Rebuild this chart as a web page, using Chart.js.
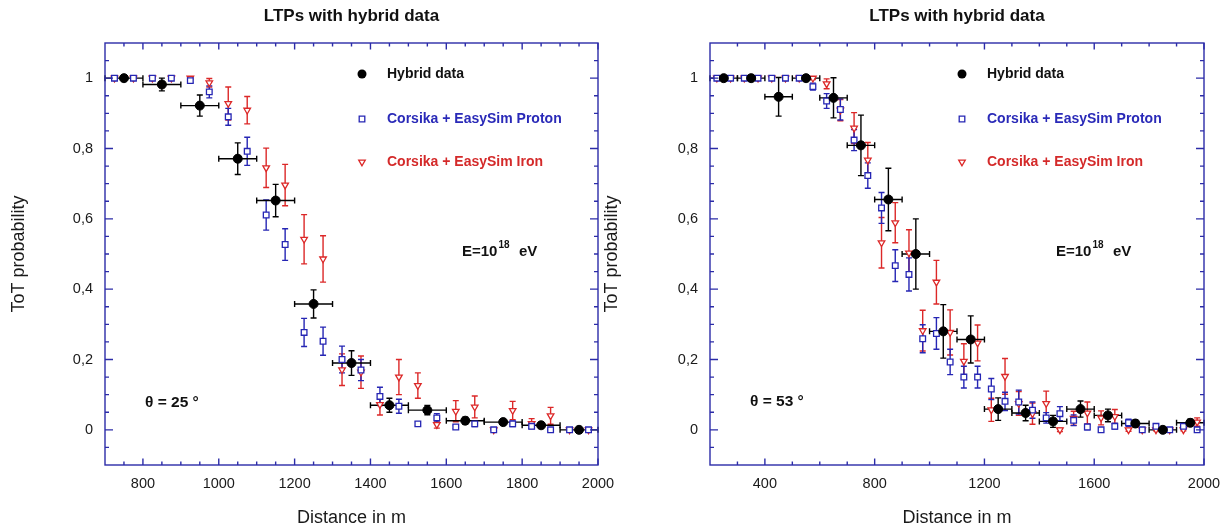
<!DOCTYPE html>
<html><head><meta charset="utf-8">
<script src="https://cdn.jsdelivr.net/npm/chart.js@4.4.1/dist/chart.umd.min.js"></script>
<style>
html,body{margin:0;padding:0;background:#fff;width:1230px;height:529px;overflow:hidden;}
canvas{position:absolute;top:0;}
#c1{left:0;} #c2{left:590px;}
</style></head><body>
<canvas id="c1" width="620" height="529"></canvas>
<canvas id="c2" width="640" height="529"></canvas>
<script>
// ---------------- DATA ----------------
const chartTitle = 'LTPs with hybrid data';
const xAxisTitle = 'Distance in m';
const yAxisTitle = 'ToT probability';
const legendLabels = ['Hybrid data', 'Corsika + EasySim Proton', 'Corsika + EasySim Iron'];

const yTickValues = [0, 0.2, 0.4, 0.6, 0.8, 1];
const yTickLabels = ['0', '0,2', '0,4', '0,6', '0,8', '1'];
const leftXTicks = [800, 1000, 1200, 1400, 1600, 1800, 2000];
const rightXTicks = [400, 800, 1200, 1600, 2000];

// Left panel (theta = 25 deg)
const leftHybX = [750, 850, 950, 1050, 1150, 1250, 1350, 1450, 1550, 1650, 1750, 1850, 1950];
const leftHybY = [1.0, 0.982, 0.922, 0.771, 0.652, 0.358, 0.190, 0.070, 0.056, 0.026, 0.022, 0.013, 0.0];
const leftHybYErr = [0.0, 0.018, 0.03, 0.045, 0.046, 0.04, 0.035, 0.02, 0.013, 0.01, 0.008, 0.006, 0.004];
const leftHybXErr = [50, 50, 50, 50, 50, 50, 50, 50, 50, 50, 50, 50, 50];

const leftSimX = [725, 775, 825, 875, 925, 975, 1025, 1075, 1125, 1175, 1225, 1275, 1325, 1375, 1425, 1475, 1525, 1575, 1625, 1675, 1725, 1775, 1825, 1875, 1925, 1975];
const leftProtonY = [1.0, 1.0, 1.0, 1.0, 0.993, 0.961, 0.890, 0.792, 0.611, 0.527, 0.277, 0.252, 0.200, 0.170, 0.095, 0.067, 0.017, 0.034, 0.008, 0.017, 0.0, 0.017, 0.010, 0.0, 0.0, 0.0];
const leftProtonErr = [0, 0, 0, 0, 0.005, 0.017, 0.024, 0.04, 0.043, 0.045, 0.04, 0.04, 0.038, 0.03, 0.026, 0.02, 0.006, 0.012, 0.005, 0.008, 0.002, 0.008, 0.006, 0.002, 0.002, 0.002];
const leftIronY = [1.0, 1.0, 1.0, 1.0, 1.0, 0.987, 0.928, 0.909, 0.745, 0.696, 0.542, 0.486, 0.171, 0.164, 0.072, 0.150, 0.126, 0.015, 0.053, 0.065, 0.0, 0.055, 0.018, 0.040, 0.0, 0.0];
const leftIronErr = [0, 0, 0, 0, 0.004, 0.012, 0.047, 0.039, 0.056, 0.059, 0.07, 0.066, 0.045, 0.046, 0.03, 0.05, 0.036, 0.01, 0.03, 0.031, 0.002, 0.026, 0.014, 0.024, 0.002, 0.002];

// Right panel (theta = 53 deg)
const rightHybX = [250, 350, 450, 550, 650, 750, 850, 950, 1050, 1150, 1250, 1350, 1450, 1550, 1650, 1750, 1850, 1950];
const rightHybY = [1.0, 1.0, 0.947, 1.0, 0.944, 0.809, 0.655, 0.500, 0.280, 0.257, 0.059, 0.048, 0.024, 0.059, 0.041, 0.018, 0.0, 0.02];
const rightHybYErr = [0.003, 0.003, 0.055, 0.003, 0.057, 0.086, 0.089, 0.10, 0.076, 0.067, 0.032, 0.022, 0.017, 0.023, 0.018, 0.01, 0.005, 0.01];
const rightHybXErr = [50, 50, 50, 50, 50, 50, 50, 50, 50, 50, 50, 50, 50, 50, 50, 50, 50, 50];

const rightSimX = [225, 275, 325, 375, 425, 475, 525, 575, 625, 675, 725, 775, 825, 875, 925, 975, 1025, 1075, 1125, 1175, 1225, 1275, 1325, 1375, 1425, 1475, 1525, 1575, 1625, 1675, 1725, 1775, 1825, 1875, 1925, 1975];
const rightProtonY = [1, 1, 1, 1, 1, 1, 1, 0.976, 0.935, 0.911, 0.824, 0.723, 0.631, 0.467, 0.442, 0.259, 0.274, 0.193, 0.150, 0.150, 0.116, 0.081, 0.079, 0.056, 0.034, 0.046, 0.027, 0.008, 0.0, 0.01, 0.02, 0.0, 0.01, 0.0, 0.01, 0.0];
const rightProtonErr = [0, 0, 0, 0, 0, 0, 0.003, 0.01, 0.021, 0.03, 0.03, 0.036, 0.044, 0.045, 0.047, 0.04, 0.045, 0.036, 0.031, 0.031, 0.03, 0.026, 0.034, 0.023, 0.015, 0.02, 0.015, 0.008, 0.004, 0.008, 0.01, 0.003, 0.006, 0.003, 0.006, 0.003];
const rightIronY = [1, 1, 1, 1, 1, 1, 1, 1.0, 0.984, 0.909, 0.858, 0.767, 0.532, 0.589, 0.503, 0.282, 0.420, 0.277, 0.195, 0.247, 0.057, 0.152, 0.075, 0.046, 0.075, 0.0, 0.033, 0.048, 0.034, 0.038, 0.0, 0.0, 0.0, 0.0, 0.0, 0.022];
const rightIronErr = [0, 0, 0, 0, 0, 0, 0, 0.004, 0.014, 0.03, 0.044, 0.05, 0.072, 0.057, 0.066, 0.058, 0.062, 0.064, 0.05, 0.051, 0.033, 0.051, 0.034, 0.03, 0.035, 0.005, 0.02, 0.031, 0.02, 0.02, 0.004, 0.003, 0.003, 0.003, 0.003, 0.012];

// ---------------- STYLE ----------------
const FONT = '"Liberation Sans", Arial, Helvetica, sans-serif';
const AXIS = '#2c2ca8';
const BLACK = '#000000';
const BLUE = '#2626b4';
const RED = '#dc2828';
const TEXT = '#1a1a1a';
const legendTextColors = ['#111111', '#2a2ab8', '#d42a2a'];

Chart.defaults.font.family = FONT;
Chart.defaults.color = TEXT;

function pts(xs, ys) { return xs.map((x, i) => ({ x: x, y: ys[i] })); }
function steps(a, b, s) { const r = []; for (let v = a; v <= b + 1e-9; v += s) r.push(+v.toFixed(4)); return r; }

function drawMarker(ctx, kind, x, y) {
  ctx.save();
  if (kind === 0) {
    ctx.fillStyle = BLACK; ctx.beginPath(); ctx.arc(x, y, 4.5, 0, Math.PI * 2); ctx.fill();
  } else if (kind === 1) {
    ctx.strokeStyle = BLUE; ctx.fillStyle = '#fff'; ctx.lineWidth = 1.3;
    ctx.beginPath(); ctx.rect(x - 2.8, y - 2.8, 5.6, 5.6); ctx.fill(); ctx.stroke();
  } else {
    ctx.strokeStyle = RED; ctx.fillStyle = '#fff'; ctx.lineWidth = 1.3;
    const r = 3.8;
    ctx.beginPath();
    ctx.moveTo(x, y + r);
    ctx.lineTo(x - r * 0.866, y - r * 0.5);
    ctx.lineTo(x + r * 0.866, y - r * 0.5);
    ctx.closePath(); ctx.fill(); ctx.stroke();
  }
  ctx.restore();
}

const errorBars = {
  id: 'errorBars',
  beforeDatasetsDraw(chart) {
    const { ctx, scales: { x, y } } = chart;
    for (let di = chart.data.datasets.length - 1; di >= 0; di--) {
      const ds = chart.data.datasets[di];
      ctx.save();
      ctx.strokeStyle = ds.borderColor;
      ctx.lineWidth = ds.errWidth || 1.4;
      const cap = ds.capSize || 3;
      ds.data.forEach((p, i) => {
        const px = x.getPixelForValue(p.x), py = y.getPixelForValue(p.y);
        ctx.beginPath();
        const ey = ds.errY ? ds.errY[i] : 0;
        if (ey > 0) {
          const y1 = y.getPixelForValue(p.y + ey), y2 = y.getPixelForValue(p.y - ey);
          ctx.moveTo(px, y1); ctx.lineTo(px, y2);
          ctx.moveTo(px - cap, y1); ctx.lineTo(px + cap, y1);
          ctx.moveTo(px - cap, y2); ctx.lineTo(px + cap, y2);
        }
        const ex = ds.errX ? ds.errX[i] : 0;
        if (ex > 0) {
          const x1 = x.getPixelForValue(p.x - ex), x2 = x.getPixelForValue(p.x + ex);
          ctx.moveTo(x1, py); ctx.lineTo(x2, py);
          ctx.moveTo(x1, py - cap); ctx.lineTo(x1, py + cap);
          ctx.moveTo(x2, py - cap); ctx.lineTo(x2, py + cap);
        }
        ctx.stroke();
      });
      ctx.restore();
    }
  }
};

const frameTicks = {
  id: 'frameTicks',
  afterDraw(chart, args, o) {
    const { ctx, chartArea: a, scales: { x, y } } = chart;
    ctx.save();
    ctx.strokeStyle = AXIS; ctx.lineWidth = 1.4;
    ctx.beginPath();
    const tx = (v, len) => { const p = x.getPixelForValue(v); ctx.moveTo(p, a.bottom); ctx.lineTo(p, a.bottom - len); ctx.moveTo(p, a.top); ctx.lineTo(p, a.top + len); };
    const ty = (v, len) => { const p = y.getPixelForValue(v); ctx.moveTo(a.left, p); ctx.lineTo(a.left + len, p); ctx.moveTo(a.right, p); ctx.lineTo(a.right - len, p); };
    o.xMinor.forEach(v => tx(v, 3.5));
    o.xMajor.forEach(v => tx(v, 6.5));
    o.yMinor.forEach(v => ty(v, 4));
    o.yMajor.forEach(v => ty(v, 8));
    ctx.stroke();
    ctx.strokeRect(a.left, a.top, a.right - a.left, a.bottom - a.top);
    ctx.restore();
  }
};

const textLayer = {
  id: 'textLayer',
  afterDraw(chart, args, o) {
    const { ctx, chartArea: a } = chart;
    ctx.save();
    ctx.fillStyle = '#111'; ctx.textAlign = 'center'; ctx.textBaseline = 'middle';
    ctx.font = 'bold 17px ' + FONT;
    ctx.fillText(chartTitle, (a.left + a.right) / 2, 16);
    ctx.textAlign = 'left';
    legendLabels.forEach((lab, i) => {
      const yy = o.legendRows[i];
      drawMarker(ctx, i, a.left + o.legendMarkerDx, yy);
      ctx.font = 'bold 14px ' + FONT;
      ctx.fillStyle = legendTextColors[i];
      ctx.fillText(lab, a.left + o.legendTextDx, yy);
    });
    ctx.fillStyle = '#111';
    const ex = a.left + o.energyDx;
    const ey = o.energyY;
    ctx.font = 'bold 15px ' + FONT;
    ctx.fillText('E=10', ex, ey);
    const w1 = ctx.measureText('E=10').width;
    ctx.font = 'bold 10px ' + FONT;
    ctx.fillText('18', ex + w1 + 1, ey - 7);
    ctx.font = 'bold 15px ' + FONT;
    ctx.fillText('eV', ex + 57, ey);
    ctx.font = 'bold 15.5px ' + FONT;
    ctx.fillText(o.thetaText, a.left + o.thetaDx, o.thetaY);
    ctx.restore();
  }
};

function makeChart(id, cfg) {
  const tickFont = { family: FONT, size: 14.5 };
  return new Chart(document.getElementById(id), {
    type: 'scatter',
    data: {
      datasets: [
        { label: legendLabels[0], data: pts(cfg.hx, cfg.hy), errY: cfg.hye, errX: cfg.hxe,
          borderColor: BLACK, backgroundColor: BLACK, pointStyle: 'circle', pointRadius: 4.5, borderWidth: 1, errWidth: 1.4 },
        { label: legendLabels[1], data: pts(cfg.sx, cfg.py), errY: cfg.pye,
          borderColor: BLUE, backgroundColor: '#ffffff', pointStyle: 'rect', pointRadius: 4, borderWidth: 1.3 },
        { label: legendLabels[2], data: pts(cfg.sx, cfg.iy), errY: cfg.iye,
          borderColor: RED, backgroundColor: '#ffffff', pointStyle: 'triangle', pointRotation: 180, pointRadius: 3.8, borderWidth: 1.3 }
      ]
    },
    options: {
      responsive: false, animation: false, devicePixelRatio: 1, events: [],
      layout: { padding: { top: 43, right: cfg.padRight, left: 0, bottom: 0 } },
      scales: {
        x: {
          type: 'linear', min: cfg.xmin, max: 2000,
          afterBuildTicks: s => { s.ticks = cfg.xticks.map(v => ({ value: v })); },
          afterFit: s => { s.height = 64; s.paddingLeft = 0; s.paddingRight = 0; },
          grid: { display: false, drawTicks: false }, border: { display: false },
          ticks: { padding: 10, font: tickFont, color: TEXT, autoSkip: false, maxRotation: 0, callback: v => String(v) },
          title: { display: true, text: xAxisTitle, color: TEXT, font: { family: FONT, size: 18 }, padding: { top: 0, bottom: 0 } }
        },
        y: {
          type: 'linear', min: -0.1, max: 1.1,
          afterBuildTicks: s => { s.ticks = yTickValues.map(v => ({ value: v })); },
          afterFit: s => { s.width = cfg.yWidth; s.paddingTop = 0; s.paddingBottom = 0; },
          grid: { display: false, drawTicks: false }, border: { display: false },
          ticks: { padding: 12, font: tickFont, color: TEXT, autoSkip: false, callback: (v, i) => yTickLabels[i] },
          title: { display: true, text: yAxisTitle, color: TEXT, font: { family: FONT, size: 18 }, padding: { top: cfg.yTitlePad, bottom: 0 } }
        }
      },
      plugins: {
        legend: { display: false }, tooltip: { enabled: false },
        frameTicks: { xMajor: cfg.xticks, xMinor: cfg.xminor, yMajor: yTickValues, yMinor: steps(-0.05, 1.05, 0.05) },
        textLayer: cfg.text
      }
    },
    plugins: [errorBars, frameTicks, textLayer]
  });
}

makeChart('c1', {
  hx: leftHybX, hy: leftHybY, hye: leftHybYErr, hxe: leftHybXErr,
  sx: leftSimX, py: leftProtonY, pye: leftProtonErr, iy: leftIronY, iye: leftIronErr,
  xmin: 700, xticks: leftXTicks, xminor: steps(750, 1950, 50),
  padRight: 22, yWidth: 105, yTitlePad: 8,
  text: { legendRows: [74, 119, 162], legendMarkerDx: 257, legendTextDx: 282,
          energyDx: 357, energyY: 252, thetaText: '\u03b8 = 25 \u00b0', thetaDx: 40, thetaY: 403 }
});

makeChart('c2', {
  hx: rightHybX, hy: rightHybY, hye: rightHybYErr, hxe: rightHybXErr,
  sx: rightSimX, py: rightProtonY, pye: rightProtonErr, iy: rightIronY, iye: rightIronErr,
  xmin: 200, xticks: rightXTicks, xminor: steps(300, 1900, 100),
  padRight: 26, yWidth: 120, yTitlePad: 11.5,
  text: { legendRows: [74, 119, 162], legendMarkerDx: 252, legendTextDx: 277,
          energyDx: 346, energyY: 252, thetaText: '\u03b8 = 53 \u00b0', thetaDx: 40, thetaY: 402 }
});
</script>
</body></html>
